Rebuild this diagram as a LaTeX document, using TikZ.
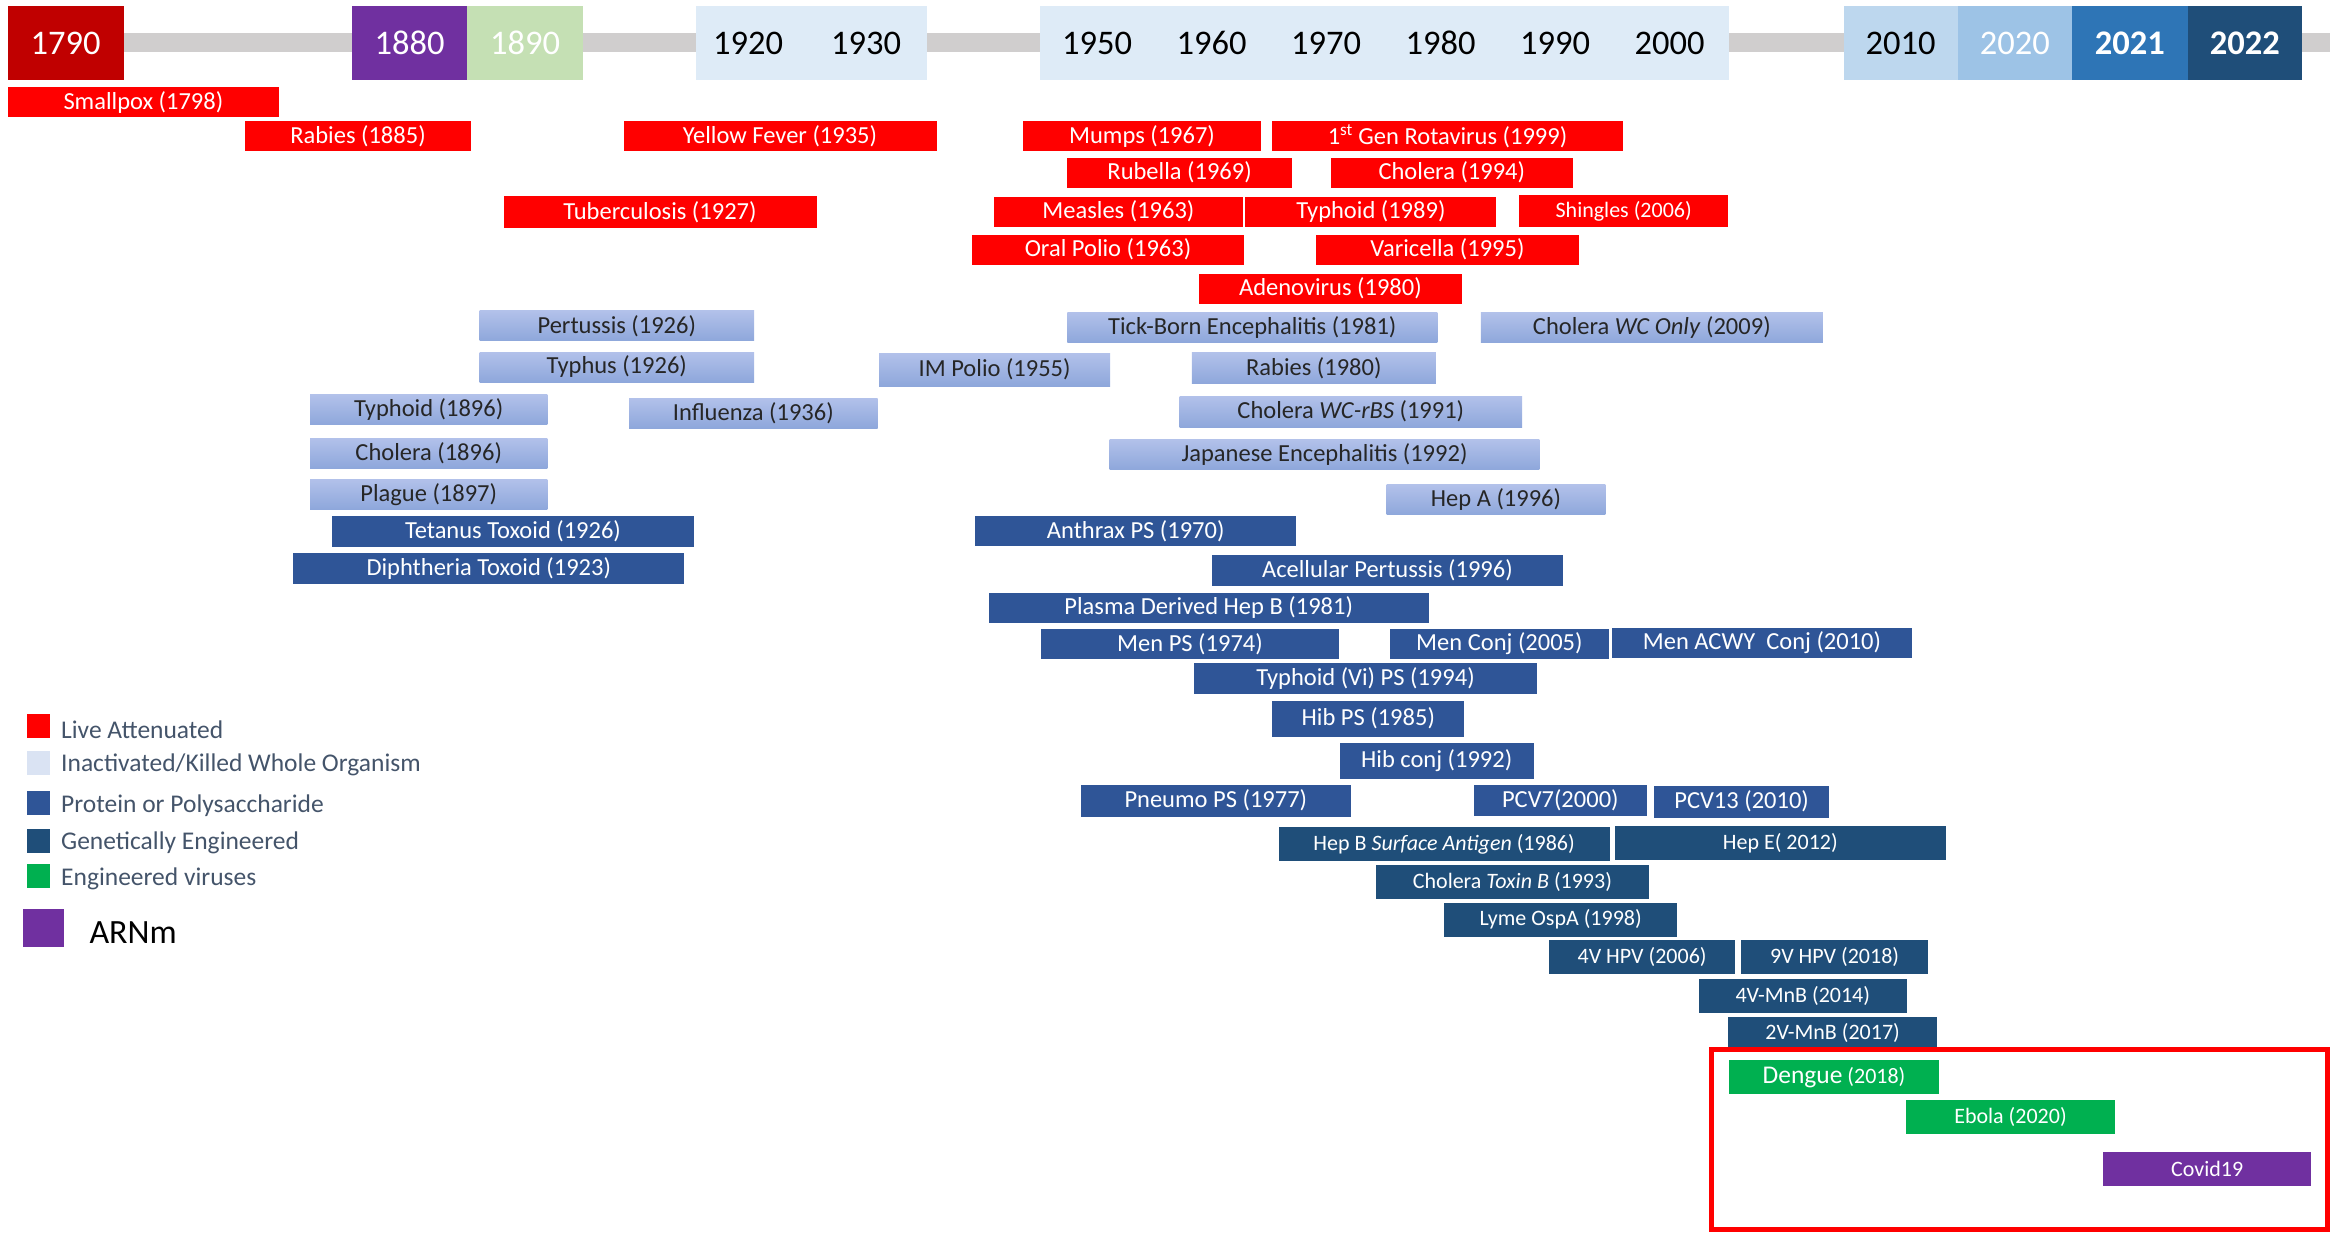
\documentclass[tikz,border=0pt]{standalone}
\usepackage{fontspec}
\setmainfont{Carlito}
\newcommand{\yearfont}{\fontsize{34.5}{40}\selectfont}
\newcommand{\lblfont}{\fontsize{24.5}{29}\selectfont}
\newcommand{\lblsmall}{\fontsize{22}{26}\selectfont}
\newcommand{\keyfont}{\fontsize{25.5}{30}\selectfont}

\definecolor{liveRed}{HTML}{FF0000}
\definecolor{killTop}{HTML}{B2C1EA}
\definecolor{killBot}{HTML}{8EA7DB}
\definecolor{killKey}{HTML}{DAE3F3}
\definecolor{protBlue}{HTML}{2F5597}
\definecolor{geneBlue}{HTML}{1F4E79}
\definecolor{virGreen}{HTML}{00B050}
\definecolor{mrnaPurple}{HTML}{7030A0}
\definecolor{barGray}{HTML}{D0CECE}
\definecolor{keyGray}{HTML}{44546A}

\tikzset{
  vacc/.style={inner sep=0pt, minimum height=30pt, font=\lblfont},
  live/.style={vacc, fill=liveRed, text=white},
  killed/.style={vacc, top color=killTop, bottom color=killBot, text=black!85},
  protein/.style={vacc, fill=protBlue, text=white},
  genetic/.style={vacc, fill=geneBlue, text=white, minimum height=34pt, font=\lblsmall},
  engvirus/.style={vacc, fill=virGreen, text=white, minimum height=34pt, font=\lblsmall},
  mrna/.style={vacc, fill=mrnaPurple, text=white, minimum height=34pt, font=\lblsmall},
  yearbox/.style={inner sep=0pt, minimum height=74pt, font=\yearfont},
  yeartext/.style={inner sep=0pt, font=\yearfont},
  keybox/.style={inner sep=0pt, minimum width=23pt, minimum height=24pt},
  keytext/.style={inner sep=0pt, anchor=west, font=\keyfont, text=keyGray}
}

\begin{document}
\begin{tikzpicture}[x=1pt, y=-1pt]
    \useasboundingbox (0,0) rectangle (2330,1232);

    % time line
    \fill[barGray] (100,33.3) rectangle (2330,51.7);
    \node[yearbox, fill={rgb,255:red,192;green,0;blue,0}, text=white, minimum width=116pt] (y1790) at (65.6,43) {1790};
    \node[yearbox, fill=mrnaPurple, text=white, minimum width=115pt] (y1880) at (409.5,43) {1880};
    \node[yearbox, fill={rgb,255:red,197;green,224;blue,180}, text=white, minimum width=116pt] (y1890) at (525,43) {1890};
    \node[yearbox, fill={rgb,255:red,222;green,235;blue,247}, minimum width=230.5pt] (y1920) at (811.25,43) {};
    \node[yeartext] (t1920) at (748,43) {1920};
    \node[yeartext] (t1930) at (866,43) {1930};
    \node[yearbox, fill={rgb,255:red,222;green,235;blue,247}, minimum width=689pt] (y1950) at (1384.5,43) {};
    \node[yeartext] (t1950) at (1097,43) {1950};
    \node[yeartext] (t1960) at (1211.5,43) {1960};
    \node[yeartext] (t1970) at (1326,43) {1970};
    \node[yeartext] (t1980) at (1440.5,43) {1980};
    \node[yeartext] (t1990) at (1555,43) {1990};
    \node[yeartext] (t2000) at (1669.5,43) {2000};
    \node[yearbox, fill={rgb,255:red,189;green,215;blue,238}, minimum width=114pt] (y2010) at (1900.5,43) {2010};
    \node[yearbox, fill={rgb,255:red,157;green,195;blue,230}, text=white, minimum width=114.4pt] (y2020) at (2014.8,43) {2020};
    \node[yearbox, fill={rgb,255:red,46;green,117;blue,182}, text=white, minimum width=115.6pt] (y2021) at (2129.8,43) {\bfseries 2021};
    \node[yearbox, fill=geneBlue, text=white, minimum width=114.4pt] (y2022) at (2244.8,43) {\bfseries 2022};

    % live attenuated
    \node[live, minimum width=271pt] (smallpox) at (143.4,102.3) {Smallpox (1798)};
    \node[live, minimum width=226pt] (rabiesA) at (358,136.3) {Rabies (1885)};
    \node[live, minimum width=313pt] (yellowfever) at (780,136.3) {Yellow Fever (1935)};
    \node[live, minimum width=313pt, minimum height=32pt] (tuberculosis) at (660,212) {Tuberculosis (1927)};
    \node[live, minimum width=238pt] (mumps) at (1142,136.3) {Mumps (1967)};
    \node[live, minimum width=351pt] (rotavirus) at (1447.5,136.3) {1\textsuperscript{st} Gen Rotavirus (1999)};
    \node[live, minimum width=225.5pt] (rubella) at (1179.6,172.5) {Rubella (1969)};
    \node[live, minimum width=242.4pt] (choleraA) at (1451.8,172.5) {Cholera (1994)};
    \node[live, minimum width=249pt] (measles) at (1118.4,211.7) {Measles (1963)};
    \node[live, minimum width=251pt] (typhoidA) at (1370.9,211.7) {Typhoid (1989)};
    \node[live, minimum width=208.6pt, minimum height=32pt, font=\lblsmall] (shingles) at (1623.7,211) {Shingles (2006)};
    \node[live, minimum width=272pt] (oralpolio) at (1108,249.5) {Oral Polio (1963)};
    \node[live, minimum width=263pt] (varicella) at (1447.5,249.5) {Varicella (1995)};
    \node[live, minimum width=262.7pt] (adenovirus) at (1330.4,288.7) {Adenovirus (1980)};

    % inactivated / killed
    \node[killed, minimum width=274.4pt] (pertussisA) at (616.8,325.8) {Pertussis (1926)};
    \node[killed, minimum width=274.4pt] (typhus) at (616.8,367) {Typhus (1926)};
    \node[killed, minimum width=237.4pt] (typhoidB) at (428.7,409.7) {Typhoid (1896)};
    \node[killed, minimum width=237.4pt] (choleraB) at (428.7,453) {Cholera (1896)};
    \node[killed, minimum width=237.4pt] (plague) at (428.7,494.2) {Plague (1897)};
    \node[killed, minimum width=248.6pt] (influenza) at (753.3,413) {Influenza (1936)};
    \node[killed, minimum width=370pt] (tickborn) at (1252.3,327.2) {Tick-Born Encephalitis (1981)};
    \node[killed, minimum width=342pt] (choleraC) at (1651.8,327.7) {Cholera \textit{WC Only} (2009)};
    \node[killed, minimum width=231.2pt, minimum height=33pt] (impolio) at (994.6,369.5) {IM Polio (1955)};
    \node[killed, minimum width=244pt, minimum height=31pt] (rabiesB) at (1313.8,368) {Rabies (1980)};
    \node[killed, minimum width=342.4pt, minimum height=31pt] (choleraD) at (1350.8,411.7) {Cholera \textit{WC-rBS} (1991)};
    \node[killed, minimum width=429.6pt] (japanese) at (1324.5,454.7) {Japanese Encephalitis (1992)};
    \node[killed, minimum width=218.7pt] (hepA) at (1496,499.8) {Hep A (1996)};

    % protein or polysaccharide
    \node[protein, minimum width=362.8pt, minimum height=31pt] (tetanus) at (513,531.3) {Tetanus Toxoid (1926)};
    \node[protein, minimum width=390.8pt, minimum height=31pt] (diphtheria) at (488.8,568.8) {Diphtheria Toxoid (1923)};
    \node[protein, minimum width=321.4pt] (anthrax) at (1135.7,531.2) {Anthrax PS (1970)};
    \node[protein, minimum width=351.3pt, minimum height=31pt] (acellular) at (1387.4,570.3) {Acellular Pertussis (1996)};
    \node[protein, minimum width=439.8pt] (plasmahepB) at (1208.7,607.5) {Plasma Derived Hep B (1981)};
    \node[protein, minimum width=297.5pt] (menPS) at (1190,644) {Men PS (1974)};
    \node[protein, minimum width=218.2pt] (menconj) at (1499.4,644) {Men Conj (2005)};
    \node[protein, minimum width=299.6pt] (menACWY) at (1762,643) {Men ACWY\ \ Conj (2010)};
    \node[protein, minimum width=343.3pt, minimum height=31pt] (typhoidVi) at (1365.5,678.7) {Typhoid (Vi) PS (1994)};
    \node[protein, minimum width=191.9pt, minimum height=36pt] (hibPS) at (1368.3,718.7) {Hib PS (1985)};
    \node[protein, minimum width=193.7pt, minimum height=36pt] (hibconj) at (1436.7,760.7) {Hib conj (1992)};
    \node[protein, minimum width=270.4pt, minimum height=32pt] (pneumoPS) at (1215.8,800.7) {Pneumo PS (1977)};
    \node[protein, minimum width=172.6pt, minimum height=31pt] (pcv7) at (1560.3,800) {PCV7(2000)};
    \node[protein, minimum width=175.2pt, minimum height=32pt] (pcv13) at (1741.6,801.5) {PCV13 (2010)};

    % genetically engineered
    \node[genetic, minimum width=331pt] (hepBsa) at (1444.1,844) {Hep B \textit{Surface Antigen} (1986)};
    \node[genetic, minimum width=330.8pt] (hepE) at (1780.3,843.3) {Hep E( 2012)};
    \node[genetic, minimum width=272.7pt] (choleraTB) at (1512.4,881.7) {Cholera \textit{Toxin B} (1993)};
    \node[genetic, minimum width=233.4pt] (lyme) at (1560.6,919.5) {Lyme OspA (1998)};
    \node[genetic, minimum width=185.8pt] (hpv4) at (1642.1,957.2) {4V HPV (2006)};
    \node[genetic, minimum width=186.3pt] (hpv9) at (1834.6,957.2) {9V HPV (2018)};
    \node[genetic, minimum width=208.5pt] (mnb4) at (1802.8,996.3) {4V-MnB (2014)};
    \node[genetic, minimum width=209.2pt, minimum height=32pt] (mnb2) at (1832.6,1032.7) {2V-MnB (2017)};

    % engineered viruses and mRNA
    \node[engvirus, minimum width=209.6pt] (dengue) at (1834,1077.2) {{\fontsize{25.5}{30}\selectfont Dengue} (2018)};
    \node[engvirus, minimum width=209pt] (ebola) at (2010.5,1117.3) {Ebola (2020)};
    \node[mrna, minimum width=208.5pt] (covid) at (2207.2,1168.5) {Covid19};
    \draw[liveRed, line width=5pt] (1711.5,1049) rectangle (2327.5,1229);

    % legend
    \node[keybox, fill=liveRed] (keylive) at (38,726.3) {};
    \node[keytext] (txtlive) at (61,729.3) {Live Attenuated};
    \node[keybox, fill=killKey] (keykilled) at (38,762.7) {};
    \node[keytext] (txtkilled) at (61,765) {Inactivated/Killed Whole Organism};
    \node[keybox, fill=protBlue] (keyprot) at (38,802.7) {};
    \node[keytext] (txtprot) at (61,805.7) {Protein or Polysaccharide};
    \node[keybox, fill=geneBlue] (keygene) at (38,840.7) {};
    \node[keytext] (txtgene) at (61,842.7) {Genetically Engineered};
    \node[keybox, fill=virGreen] (keyvir) at (38,876.3) {};
    \node[keytext] (txtvir) at (61,879.3) {Engineered viruses};
    \node[keybox, fill=mrnaPurple, minimum width=40.8pt, minimum height=37.4pt] (keymrna) at (43.4,928) {};
    \node[keytext, text=black, font=\fontsize{34}{40}\selectfont] (txtmrna) at (89.3,933) {ARNm};
\end{tikzpicture}
\end{document}
